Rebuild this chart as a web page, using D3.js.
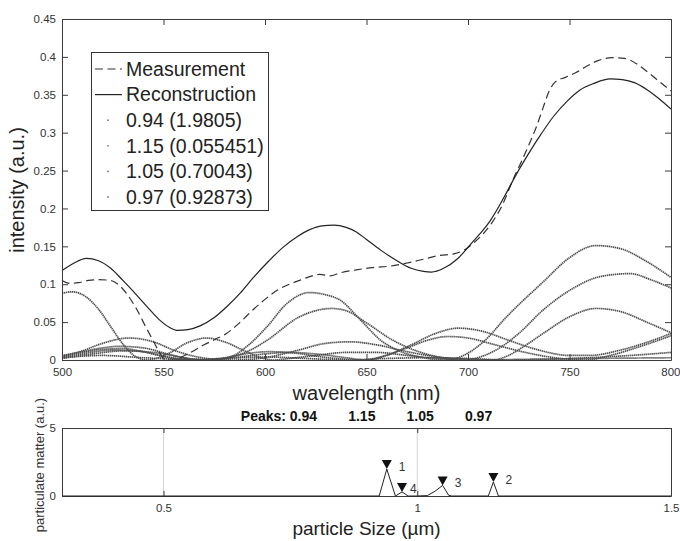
<!DOCTYPE html>
<html>
<head>
<meta charset="utf-8">
<script src="https://cdn.jsdelivr.net/npm/d3@7"></script>
<style>
  body { margin: 0; background: #fff; }
  svg { display: block; font-family: "Liberation Sans", Arial, Helvetica, sans-serif; }
</style>
</head>
<body>
<svg id="chart" width="680" height="541"></svg>
<script>
// ---- spectrum panel data: [wavelength nm, intensity a.u.] ----
const wavelengthTicks = [500, 550, 600, 650, 700, 750, 800];
const intensityTicks = [0, 0.05, 0.1, 0.15, 0.2, 0.25, 0.3, 0.35, 0.4, 0.45];

const measurement = [
  [500,.105],[504,.101],[508,.102],[513,.105],[518,.106],[524,.105],[528,.099],[532,.087],
  [537,.066],[541,.045],[545,.025],[548,.010],[550,.002],[553,0],[556,0],[559,.004],
  [564,.011],[570,.020],[576,.028],[581,.035],[587,.048],[594,.066],[600,.080],[606,.092],
  [612,.100],[617,.105],[622,.110],[627,.113],[632,.111],[637,.115],[645,.119],[653,.122],
  [662,.124],[670,.128],[678,.133],[686,.138],[693,.140],[698,.145],[703,.155],[708,.168],
  [712,.182],[717,.205],[722,.237],[726,.260],[730,.284],[734,.310],[737,.333],[740,.355],
  [743,.367],[748,.373],[753,.379],[758,.387],[764,.395],[771,.399],[777,.398],[783,.391],
  [788,.381],[794,.368],[800,.355]
];

const reconstruction = [
  [500,.118],[506,.128],[512,.134],[518,.131],[524,.121],[530,.105],[536,.088],[542,.070],
  [548,.053],[553,.043],[557,.039],[562,.040],[568,.045],[575,.056],[581,.070],[588,.089],
  [594,.108],[602,.131],[609,.149],[616,.163],[622,.172],[628,.177],[634,.178],[640,.175],
  [645,.169],[650,.159],[657,.145],[665,.131],[672,.121],[678,.117],[682,.116],[688,.121],
  [695,.134],[702,.155],[707,.170],[711,.184],[718,.216],[724,.246],[730,.273],[736,.298],
  [742,.321],[749,.342],[755,.356],[762,.365],[770,.371],[776,.370],[782,.366],[788,.357],
  [794,.345],[800,.331]
];

// individual size-class contributions
const componentA = [
  [500,.088],[505,.090],[512,.083],[518,.067],[524,.044],[530,.021],[536,.005],[542,0],
  [552,.008],[562,.023],[571,.029],[580,.024],[590,.012],[598,.003],[604,0],[612,.002],
  [625,.006],[640,.010],[655,.010],[670,.006],[685,.002],[700,0],[730,.001],[760,.002],[800,.003]
];
const componentB = [
  [500,.005],[510,.010],[520,.014],[530,.015],[540,.011],[550,.005],[560,.001],[568,0],
  [576,.001],[583,.004],[592,.020],[601,.044],[611,.075],[622,.089],[630,.086],[637,.079],
  [647,.053],[657,.026],[667,.011],[678,.003],[688,0],[697,.005],[708,.025],[719,.057],
  [737,.103],[750,.135],[763,.151],[775,.147],[788,.130],[800,.109]
];
const componentC = [
  [500,.003],[512,.009],[525,.013],[537,.012],[548,.006],[558,.001],[566,0],[576,.001],
  [584,.004],[592,.012],[601,.026],[617,.057],[633,.068],[640,.065],[650,.049],[663,.026],
  [678,.009],[690,.002],[698,0],[706,.004],[715,.015],[725,.035],[737,.066],[752,.095],
  [765,.110],[780,.114],[790,.106],[800,.095]
];
const componentD = [
  [500,.004],[510,.012],[520,.022],[533,.029],[545,.024],[555,.013],[565,.005],[575,.001],
  [585,0],[600,.003],[615,.012],[630,.022],[642,.024],[655,.020],[670,.011],[685,.004],
  [700,.001],[712,0],[720,.006],[727,.017],[737,.035],[750,.057],[763,.068],[775,.064],
  [788,.050],[800,.036]
];
const componentE = [
  [500,.006],[510,.011],[520,.016],[528,.018],[540,.016],[552,.008],[562,.002],[572,0],
  [585,.003],[600,.008],[612,.010],[625,.008],[640,.003],[650,0],[660,.006],[672,.020],
  [684,.035],[695,.042],[707,.038],[720,.026],[735,.013],[750,.006],[760,.006],[775,.013],
  [790,.025],[800,.035]
];
const componentF = [
  [500,.002],[515,.008],[530,.012],[545,.010],[558,.004],[568,0],[578,.002],[590,.008],
  [602,.011],[615,.009],[628,.004],[640,.001],[648,0],[658,.005],[670,.016],[680,.026],
  [690,.031],[700,.029],[712,.021],[725,.012],[740,.004],[750,.001],[758,0],[770,.006],
  [785,.018],[800,.032]
];
const componentG = [
  [500,.003],[520,.006],[540,.003],[560,.001],[580,.002],[600,.004],[620,.002],[640,0],
  [660,.002],[680,.003],[700,.002],[720,0],[740,.001],[760,.003],[780,.006],[800,.010]
];

const legendLabels = ["Measurement", "Reconstruction",
  "0.94 (1.9805)", "1.15 (0.055451)", "1.05 (0.70043)", "0.97 (0.92873)"];

// ---- size-distribution panel data ----
const sizeTicks = [0.5, 1, 1.5];
const amountTicks = [0, 5];
const particleSize   = [0.30, 0.925, 0.94, 0.957, 0.97, 0.982, 1.00, 1.02, 1.035, 1.05, 1.062, 1.068, 1.14, 1.15, 1.16, 1.50];
const particleAmount = [0,    0,     1.98, 0,     0.30, 0,     0,    0.03, 0.35,  0.78, 0.05,  0,     0,    1.03, 0,    0];
const peakSizes   = [0.94, 1.15, 1.05, 0.97];
const peakHeights = [1.98, 1.03, 0.78, 0.30];
const peakNumbers = ["1", "2", "3", "4"];

const svg = d3.select("#chart");
const axisColor = "#3a3a3a";
const textColor = "#333";

// ================= spectrum panel =================
const x = d3.scaleLinear().domain([500, 800]).range([62, 671]);
const y = d3.scaleLinear().domain([0, 0.45]).range([360, 19]);
const fmt = d => String(+d.toFixed(2));

const spectrumPanel = svg.append("g");

const lineW = d3.line().x(d => x(d[0])).y(d => y(d[1])).curve(d3.curveMonotoneX);

[componentA, componentB, componentC, componentD, componentE, componentF, componentG].forEach(c => {
  spectrumPanel.append("path").attr("d", lineW(c))
    .attr("fill", "none").attr("stroke", "#4d4d4d").attr("stroke-width", 1.7)
    .attr("stroke-dasharray", "1.4,0.6");
});

spectrumPanel.append("path").attr("d", lineW(measurement))
  .attr("fill", "none").attr("stroke", "#333").attr("stroke-width", 1.2)
  .attr("stroke-dasharray", "8,4.5");

spectrumPanel.append("path").attr("d", lineW(reconstruction))
  .attr("fill", "none").attr("stroke", "#222").attr("stroke-width", 1.2);

function styleAxis(g) {
  g.select(".domain").attr("stroke", axisColor);
  g.selectAll(".tick line").attr("stroke", axisColor);
  g.selectAll(".tick text").attr("fill", textColor).attr("font-size", 11.5)
    .attr("font-family", "'Liberation Sans', Arial, sans-serif");
}

const xAxisG = spectrumPanel.append("g").attr("transform", "translate(0,360)")
  .call(d3.axisBottom(x).tickValues(wavelengthTicks).tickSizeInner(-6).tickSizeOuter(0).tickPadding(8))
  .call(styleAxis);
// keep the last label inside the canvas
xAxisG.selectAll(".tick text").filter(d => d === 800).attr("text-anchor", "end").attr("dx", "9px");

spectrumPanel.append("g").attr("transform", "translate(0,19)")
  .call(d3.axisTop(x).tickValues(wavelengthTicks).tickSizeInner(-6).tickSizeOuter(0).tickFormat(""))
  .call(styleAxis);
spectrumPanel.append("g").attr("transform", "translate(62,0)")
  .call(d3.axisLeft(y).tickValues(intensityTicks).tickSizeInner(-6).tickSizeOuter(0).tickPadding(6).tickFormat(fmt))
  .call(styleAxis);
spectrumPanel.append("g").attr("transform", "translate(671,0)")
  .call(d3.axisRight(y).tickValues(intensityTicks).tickSizeInner(-6).tickSizeOuter(0).tickFormat(""))
  .call(styleAxis);

spectrumPanel.append("text").attr("x", 366.5).attr("y", 400).attr("text-anchor", "middle")
  .attr("font-size", 20).attr("fill", "#222").text("wavelength (nm)");
spectrumPanel.append("text").attr("transform", "translate(24,190) rotate(-90)").attr("text-anchor", "middle")
  .attr("font-size", 20).attr("fill", "#222").text("intensity (a.u.)");

// legend
const lg = spectrumPanel.append("g");
lg.append("rect").attr("x", 91.5).attr("y", 52.5).attr("width", 177).attr("height", 158)
  .attr("fill", "#fff").attr("stroke", "#333").attr("stroke-width", 1);
legendLabels.forEach((lab, i) => {
  const cy = 69 + i * 25.6;
  if (i === 0) {
    lg.append("line").attr("x1", 95).attr("x2", 122).attr("y1", cy).attr("y2", cy)
      .attr("stroke", "#333").attr("stroke-width", 1.2).attr("stroke-dasharray", "8,4.5");
  } else if (i === 1) {
    lg.append("line").attr("x1", 95).attr("x2", 122).attr("y1", cy).attr("y2", cy)
      .attr("stroke", "#222").attr("stroke-width", 1.2);
  } else {
    lg.append("circle").attr("cx", 108).attr("cy", cy).attr("r", 0.9).attr("fill", "#777");
  }
  lg.append("text").attr("x", 126).attr("y", cy).attr("dy", "0.35em")
    .attr("font-size", 19.5).attr("fill", "#222").text(lab);
});

// ================= size-distribution panel =================
const xs = d3.scaleLinear().domain([0.3, 1.5]).range([62, 671]);
const ys = d3.scaleLinear().domain([0, 5]).range([496, 428]);
const sizePanel = svg.append("g");

// vertical grid lines
sizePanel.selectAll("line.grid").data(sizeTicks.filter(t => t < 1.5)).join("line")
  .attr("class", "grid")
  .attr("x1", d => xs(d)).attr("x2", d => xs(d)).attr("y1", 428).attr("y2", 496)
  .attr("stroke", "#d4d4d4").attr("stroke-width", 1);

const sizeAxisG = sizePanel.append("g").attr("transform", "translate(0,496)")
  .call(d3.axisBottom(xs).tickValues(sizeTicks).tickSizeInner(-5).tickSizeOuter(0).tickPadding(8).tickFormat(d => String(d)))
  .call(styleAxis);
sizeAxisG.selectAll(".tick text").filter(d => d === 1.5).attr("text-anchor", "end").attr("dx", "8px");

sizePanel.append("g").attr("transform", "translate(0,428)")
  .call(d3.axisTop(xs).tickValues(sizeTicks).tickSizeInner(-5).tickSizeOuter(0).tickFormat(""))
  .call(styleAxis);
sizePanel.append("g").attr("transform", "translate(62,0)")
  .call(d3.axisLeft(ys).tickValues(amountTicks).tickSizeInner(-5).tickSizeOuter(0).tickPadding(6).tickFormat(d => String(d)))
  .call(styleAxis);
sizePanel.append("g").attr("transform", "translate(671,0)")
  .call(d3.axisRight(ys).tickValues(amountTicks).tickSizeInner(-5).tickSizeOuter(0).tickFormat(""))
  .call(styleAxis);

const dist = particleSize.map((s, i) => [s, particleAmount[i]]);
sizePanel.append("path")
  .attr("d", d3.line().x(d => xs(d[0])).y(d => ys(d[1]))(dist))
  .attr("fill", "none").attr("stroke", "#222").attr("stroke-width", 1);

// peak markers (downward triangles with tip on the peak)
peakSizes.forEach((s, i) => {
  const px = xs(s), py = ys(peakHeights[i]);
  sizePanel.append("path")
    .attr("d", `M${px - 5},${py - 9}L${px + 5},${py - 9}L${px},${py}Z`)
    .attr("fill", "#111");
  sizePanel.append("text").attr("x", px + (i === 3 ? 8 : 12)).attr("y", py + (i === 3 ? 1 : 2))
    .attr("font-size", 12).attr("fill", textColor).text(peakNumbers[i]);
});

sizePanel.append("text").attr("x", 366.5).attr("y", 421).attr("text-anchor", "middle")
  .attr("font-size", 14).attr("font-weight", "bold").attr("fill", "#111")
  .style("white-space", "pre")
  .text("Peaks: " + peakSizes.map(d => d.toFixed(2)).join("        "));

sizePanel.append("text").attr("x", 366.5).attr("y", 535).attr("text-anchor", "middle")
  .attr("font-size", 19).attr("fill", "#222").text("particle Size (\u00b5m)");
sizePanel.append("text").attr("transform", "translate(44,465) rotate(-90)").attr("text-anchor", "middle")
  .attr("font-size", 13).attr("fill", textColor).text("particulate matter (a.u.)");
</script>
</body>
</html>
